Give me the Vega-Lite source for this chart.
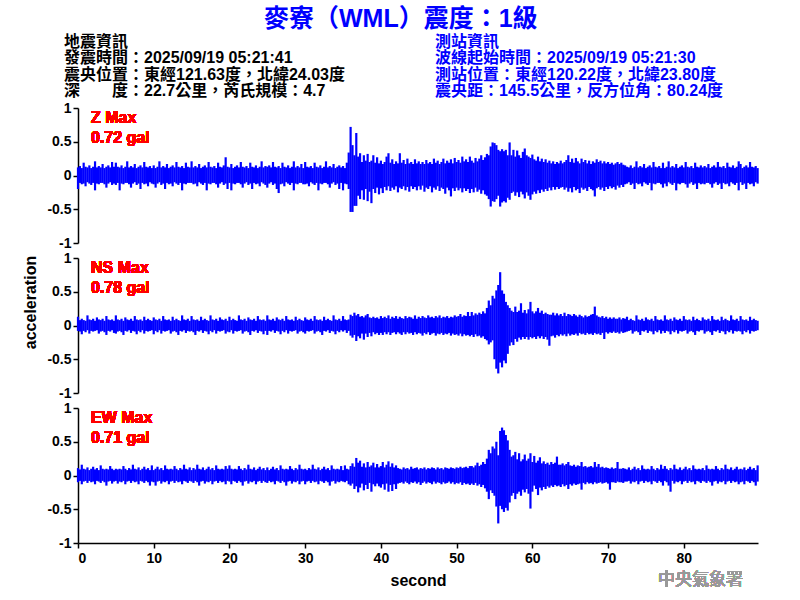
{
"$schema": "https://vega.github.io/schema/vega-lite/v6.json",
"background": "white",
"padding": {"left": 22, "top": 7, "right": 5, "bottom": 5},
"title": {"text": "麥寮（WML）震度：1級", "color": "#0000FF", "fontSize": 25, "fontWeight": "bold", "font": "Liberation Sans, Noto Sans CJK TC", "anchor": "middle", "offset": 2, "dx": 10},
"bounds": "flush",
"spacing": 15,
"datasets": {
"info": [
{"col":"L","r":1,"s":"地震資訊"},
{"col":"L","r":2,"s":"發震時間：2025/09/19 05:21:41"},
{"col":"L","r":3,"s":"震央位置：東經121.63度，北緯24.03度"},
{"col":"L","r":4,"s":"深　　度：22.7公里，芮氏規模：4.7"},
{"col":"R","r":1,"s":"測站資訊"},
{"col":"R","r":2,"s":"波線起始時間：2025/09/19 05:21:30"},
{"col":"R","r":3,"s":"測站位置：東經120.22度，北緯23.80度"},
{"col":"R","r":4,"s":"震央距：145.5公里，反方位角：80.24度"}
],
"w": [
{"t":0,"a":-0.2,"b":0.12,"c":-0.08,"d":0.13,"e":-0.1,"f":0.11},
{"t":0.25,"a":-0.11,"b":0.14,"c":-0.09,"d":0.08,"e":-0.08,"f":0.09},
{"t":0.5,"a":-0.13,"b":0.11,"c":-0.13,"d":0.1,"e":-0.13,"f":0.16},
{"t":0.75,"a":-0.12,"b":0.19,"c":-0.08,"d":0.08,"e":-0.09,"f":0.1},
{"t":1,"a":-0.16,"b":0.13,"c":-0.1,"d":0.07,"e":-0.08,"f":0.09},
{"t":1.25,"a":-0.1,"b":0.12,"c":-0.07,"d":0.15,"e":-0.11,"f":0.12},
{"t":1.5,"a":-0.12,"b":0.15,"c":-0.12,"d":0.09,"e":-0.08,"f":0.08},
{"t":1.75,"a":-0.14,"b":0.11,"c":-0.08,"d":0.08,"e":-0.1,"f":0.1},
{"t":2,"a":-0.11,"b":0.13,"c":-0.09,"d":0.1,"e":-0.09,"f":0.13},
{"t":2.25,"a":-0.22,"b":0.21,"c":-0.08,"d":0.07,"e":-0.13,"f":0.09},
{"t":2.5,"a":-0.12,"b":0.12,"c":-0.07,"d":0.12,"e":-0.08,"f":0.11},
{"t":2.75,"a":-0.13,"b":0.14,"c":-0.12,"d":0.09,"e":-0.09,"f":0.08},
{"t":3,"a":-0.11,"b":0.12,"c":-0.09,"d":0.08,"e":-0.11,"f":0.15},
{"t":3.25,"a":-0.11,"b":0.17,"c":-0.08,"d":0.1,"e":-0.08,"f":0.1},
{"t":3.5,"a":-0.13,"b":0.11,"c":-0.1,"d":0.07,"e":-0.1,"f":0.09},
{"t":3.75,"a":-0.18,"b":0.13,"c":-0.14,"d":0.14,"e":-0.15,"f":0.1},
{"t":4,"a":-0.12,"b":0.15,"c":-0.08,"d":0.09,"e":-0.09,"f":0.09},
{"t":4.25,"a":-0.1,"b":0.12,"c":-0.09,"d":0.08,"e":-0.08,"f":0.14},
{"t":4.5,"a":-0.14,"b":0.2,"c":-0.07,"d":0.09,"e":-0.12,"f":0.1},
{"t":4.75,"a":-0.12,"b":0.13,"c":-0.11,"d":0.07,"e":-0.09,"f":0.08},
{"t":5,"a":-0.14,"b":0.19,"c":-0.12,"d":0.15,"e":-0.08,"f":0.1},
{"t":5.25,"a":-0.11,"b":0.13,"c":-0.09,"d":0.09,"e":-0.12,"f":0.09},
{"t":5.5,"a":-0.22,"b":0.12,"c":-0.08,"d":0.08,"e":-0.09,"f":0.1},
{"t":5.75,"a":-0.12,"b":0.15,"c":-0.1,"d":0.1,"e":-0.1,"f":0.09},
{"t":6,"a":-0.13,"b":0.11,"c":-0.14,"d":0.07,"e":-0.08,"f":0.14},
{"t":6.25,"a":-0.11,"b":0.13,"c":-0.08,"d":0.12,"e":-0.13,"f":0.1},
{"t":6.5,"a":-0.11,"b":0.21,"c":-0.09,"d":0.09,"e":-0.09,"f":0.08},
{"t":6.75,"a":-0.13,"b":0.12,"c":-0.07,"d":0.08,"e":-0.08,"f":0.11},
{"t":7,"a":-0.18,"b":0.14,"c":-0.11,"d":0.1,"e":-0.11,"f":0.09},
{"t":7.25,"a":-0.12,"b":0.12,"c":-0.08,"d":0.07,"e":-0.08,"f":0.16},
{"t":7.5,"a":-0.1,"b":0.17,"c":-0.09,"d":0.14,"e":-0.1,"f":0.1},
{"t":7.75,"a":-0.14,"b":0.11,"c":-0.13,"d":0.09,"e":-0.09,"f":0.09},
{"t":8,"a":-0.12,"b":0.13,"c":-0.08,"d":0.08,"e":-0.13,"f":0.12},
{"t":8.25,"a":-0.2,"b":0.15,"c":-0.1,"d":0.09,"e":-0.08,"f":0.08},
{"t":8.5,"a":-0.11,"b":0.12,"c":-0.07,"d":0.07,"e":-0.09,"f":0.1},
{"t":8.75,"a":-0.13,"b":0.2,"c":-0.12,"d":0.13,"e":-0.11,"f":0.13},
{"t":9,"a":-0.12,"b":0.13,"c":-0.08,"d":0.08,"e":-0.08,"f":0.09},
{"t":9.25,"a":-0.16,"b":0.12,"c":-0.09,"d":0.1,"e":-0.1,"f":0.11},
{"t":9.5,"a":-0.1,"b":0.14,"c":-0.08,"d":0.08,"e":-0.15,"f":0.08},
{"t":9.75,"a":-0.12,"b":0.11,"c":-0.07,"d":0.07,"e":-0.09,"f":0.15},
{"t":10,"a":-0.13,"b":0.15,"c":-0.13,"d":0.12,"e":-0.1,"f":0.08},
{"t":10.25,"a":-0.18,"b":0.11,"c":-0.08,"d":0.09,"e":-0.15,"f":0.1},
{"t":10.5,"a":-0.12,"b":0.13,"c":-0.1,"d":0.08,"e":-0.09,"f":0.13},
{"t":10.75,"a":-0.1,"b":0.21,"c":-0.07,"d":0.1,"e":-0.08,"f":0.09},
{"t":11,"a":-0.14,"b":0.12,"c":-0.12,"d":0.07,"e":-0.12,"f":0.11},
{"t":11.25,"a":-0.12,"b":0.14,"c":-0.08,"d":0.14,"e":-0.09,"f":0.08},
{"t":11.5,"a":-0.2,"b":0.12,"c":-0.09,"d":0.09,"e":-0.1,"f":0.15},
{"t":11.75,"a":-0.11,"b":0.17,"c":-0.08,"d":0.08,"e":-0.08,"f":0.1},
{"t":12,"a":-0.13,"b":0.11,"c":-0.07,"d":0.09,"e":-0.13,"f":0.09},
{"t":12.25,"a":-0.12,"b":0.13,"c":-0.12,"d":0.07,"e":-0.09,"f":0.1},
{"t":12.5,"a":-0.16,"b":0.15,"c":-0.09,"d":0.13,"e":-0.08,"f":0.09},
{"t":12.75,"a":-0.1,"b":0.12,"c":-0.08,"d":0.08,"e":-0.11,"f":0.14},
{"t":13,"a":-0.12,"b":0.2,"c":-0.1,"d":0.1,"e":-0.08,"f":0.1},
{"t":13.25,"a":-0.14,"b":0.13,"c":-0.14,"d":0.08,"e":-0.1,"f":0.08},
{"t":13.5,"a":-0.11,"b":0.12,"c":-0.08,"d":0.07,"e":-0.09,"f":0.11},
{"t":13.75,"a":-0.22,"b":0.14,"c":-0.09,"d":0.15,"e":-0.13,"f":0.09},
{"t":14,"a":-0.12,"b":0.11,"c":-0.07,"d":0.09,"e":-0.08,"f":0.16},
{"t":14.25,"a":-0.13,"b":0.19,"c":-0.11,"d":0.08,"e":-0.09,"f":0.1},
{"t":14.5,"a":-0.11,"b":0.13,"c":-0.08,"d":0.1,"e":-0.11,"f":0.09},
{"t":14.75,"a":-0.11,"b":0.12,"c":-0.09,"d":0.07,"e":-0.08,"f":0.12},
{"t":15,"a":-0.11,"b":0.21,"c":-0.08,"d":0.14,"e":-0.09,"f":0.08},
{"t":15.25,"a":-0.13,"b":0.12,"c":-0.1,"d":0.09,"e":-0.11,"f":0.11},
{"t":15.5,"a":-0.12,"b":0.14,"c":-0.14,"d":0.08,"e":-0.08,"f":0.09},
{"t":15.75,"a":-0.16,"b":0.12,"c":-0.08,"d":0.09,"e":-0.1,"f":0.16},
{"t":16,"a":-0.1,"b":0.17,"c":-0.09,"d":0.07,"e":-0.15,"f":0.1},
{"t":16.25,"a":-0.12,"b":0.11,"c":-0.07,"d":0.13,"e":-0.09,"f":0.09},
{"t":16.5,"a":-0.14,"b":0.13,"c":-0.11,"d":0.08,"e":-0.08,"f":0.12},
{"t":16.75,"a":-0.11,"b":0.15,"c":-0.08,"d":0.1,"e":-0.12,"f":0.08},
{"t":17,"a":-0.22,"b":0.12,"c":-0.09,"d":0.08,"e":-0.09,"f":0.1},
{"t":17.25,"a":-0.12,"b":0.2,"c":-0.13,"d":0.07,"e":-0.1,"f":0.13},
{"t":17.5,"a":-0.13,"b":0.13,"c":-0.08,"d":0.15,"e":-0.08,"f":0.09},
{"t":17.75,"a":-0.11,"b":0.12,"c":-0.1,"d":0.09,"e":-0.13,"f":0.11},
{"t":18,"a":-0.11,"b":0.14,"c":-0.07,"d":0.08,"e":-0.09,"f":0.08},
{"t":18.25,"a":-0.13,"b":0.11,"c":-0.12,"d":0.1,"e":-0.08,"f":0.15},
{"t":18.5,"a":-0.18,"b":0.19,"c":-0.08,"d":0.07,"e":-0.11,"f":0.1},
{"t":18.75,"a":-0.12,"b":0.13,"c":-0.09,"d":0.12,"e":-0.08,"f":0.09},
{"t":19,"a":-0.1,"b":0.12,"c":-0.08,"d":0.09,"e":-0.1,"f":0.1},
{"t":19.25,"a":-0.14,"b":0.15,"c":-0.07,"d":0.08,"e":-0.09,"f":0.09},
{"t":19.5,"a":-0.12,"b":0.27,"c":-0.12,"d":0.1,"e":-0.13,"f":0.14},
{"t":19.75,"a":-0.2,"b":0.13,"c":-0.09,"d":0.07,"e":-0.08,"f":0.1},
{"t":20,"a":-0.11,"b":0.12,"c":-0.1,"d":0.13,"e":-0.09,"f":0.15},
{"t":20.25,"a":-0.22,"b":0.17,"c":-0.07,"d":0.08,"e":-0.13,"f":0.1},
{"t":20.5,"a":-0.12,"b":0.11,"c":-0.12,"d":0.1,"e":-0.08,"f":0.09},
{"t":20.75,"a":-0.13,"b":0.13,"c":-0.08,"d":0.08,"e":-0.09,"f":0.1},
{"t":21,"a":-0.11,"b":0.15,"c":-0.09,"d":0.07,"e":-0.11,"f":0.09},
{"t":21.25,"a":-0.11,"b":0.12,"c":-0.08,"d":0.15,"e":-0.08,"f":0.14},
{"t":21.5,"a":-0.13,"b":0.2,"c":-0.07,"d":0.09,"e":-0.1,"f":0.1},
{"t":21.75,"a":-0.18,"b":0.13,"c":-0.12,"d":0.08,"e":-0.15,"f":0.08},
{"t":22,"a":-0.12,"b":0.12,"c":-0.09,"d":0.1,"e":-0.09,"f":0.11},
{"t":22.25,"a":-0.1,"b":0.14,"c":-0.08,"d":0.07,"e":-0.08,"f":0.09},
{"t":22.5,"a":-0.14,"b":0.11,"c":-0.1,"d":0.12,"e":-0.12,"f":0.16},
{"t":22.75,"a":-0.12,"b":0.19,"c":-0.14,"d":0.09,"e":-0.09,"f":0.1},
{"t":23,"a":-0.2,"b":0.13,"c":-0.08,"d":0.08,"e":-0.1,"f":0.09},
{"t":23.25,"a":-0.11,"b":0.12,"c":-0.09,"d":0.1,"e":-0.08,"f":0.12},
{"t":23.5,"a":-0.13,"b":0.15,"c":-0.07,"d":0.07,"e":-0.13,"f":0.08},
{"t":23.75,"a":-0.12,"b":0.11,"c":-0.11,"d":0.14,"e":-0.09,"f":0.1},
{"t":24,"a":-0.16,"b":0.13,"c":-0.08,"d":0.09,"e":-0.08,"f":0.13},
{"t":24.25,"a":-0.1,"b":0.21,"c":-0.09,"d":0.08,"e":-0.11,"f":0.09},
{"t":24.5,"a":-0.12,"b":0.12,"c":-0.13,"d":0.09,"e":-0.08,"f":0.11},
{"t":24.75,"a":-0.14,"b":0.14,"c":-0.08,"d":0.07,"e":-0.1,"f":0.08},
{"t":25,"a":-0.18,"b":0.13,"c":-0.14,"d":0.15,"e":-0.11,"f":0.12},
{"t":25.25,"a":-0.12,"b":0.15,"c":-0.08,"d":0.09,"e":-0.08,"f":0.08},
{"t":25.5,"a":-0.1,"b":0.12,"c":-0.09,"d":0.08,"e":-0.1,"f":0.1},
{"t":25.75,"a":-0.14,"b":0.2,"c":-0.07,"d":0.1,"e":-0.09,"f":0.13},
{"t":26,"a":-0.12,"b":0.13,"c":-0.11,"d":0.07,"e":-0.13,"f":0.09},
{"t":26.25,"a":-0.2,"b":0.12,"c":-0.08,"d":0.12,"e":-0.08,"f":0.11},
{"t":26.5,"a":-0.26,"b":0.14,"c":-0.09,"d":0.09,"e":-0.09,"f":0.08},
{"t":26.75,"a":-0.13,"b":0.11,"c":-0.13,"d":0.08,"e":-0.11,"f":0.15},
{"t":27,"a":-0.12,"b":0.19,"c":-0.08,"d":0.1,"e":-0.08,"f":0.1},
{"t":27.25,"a":-0.16,"b":0.13,"c":-0.1,"d":0.07,"e":-0.1,"f":0.09},
{"t":27.5,"a":-0.1,"b":0.12,"c":-0.07,"d":0.14,"e":-0.15,"f":0.1},
{"t":27.75,"a":-0.12,"b":0.15,"c":-0.12,"d":0.09,"e":-0.09,"f":0.09},
{"t":28,"a":-0.14,"b":0.11,"c":-0.08,"d":0.08,"e":-0.08,"f":0.14},
{"t":28.25,"a":-0.11,"b":0.13,"c":-0.09,"d":0.09,"e":-0.12,"f":0.1},
{"t":28.5,"a":-0.22,"b":0.21,"c":-0.08,"d":0.07,"e":-0.09,"f":0.08},
{"t":28.75,"a":-0.12,"b":0.12,"c":-0.07,"d":0.13,"e":-0.1,"f":0.11},
{"t":29,"a":-0.13,"b":0.14,"c":-0.12,"d":0.08,"e":-0.08,"f":0.09},
{"t":29.25,"a":-0.11,"b":0.12,"c":-0.09,"d":0.1,"e":-0.13,"f":0.16},
{"t":29.5,"a":-0.11,"b":0.17,"c":-0.08,"d":0.08,"e":-0.09,"f":0.1},
{"t":29.75,"a":-0.13,"b":0.11,"c":-0.1,"d":0.07,"e":-0.08,"f":0.09},
{"t":30,"a":-0.13,"b":0.2,"c":-0.12,"d":0.12,"e":-0.13,"f":0.1},
{"t":30.25,"a":-0.12,"b":0.13,"c":-0.08,"d":0.09,"e":-0.09,"f":0.08},
{"t":30.5,"a":-0.16,"b":0.12,"c":-0.09,"d":0.08,"e":-0.08,"f":0.11},
{"t":30.75,"a":-0.1,"b":0.14,"c":-0.08,"d":0.1,"e":-0.11,"f":0.09},
{"t":31,"a":-0.12,"b":0.11,"c":-0.07,"d":0.07,"e":-0.08,"f":0.16},
{"t":31.25,"a":-0.14,"b":0.19,"c":-0.12,"d":0.14,"e":-0.1,"f":0.1},
{"t":31.5,"a":-0.11,"b":0.13,"c":-0.09,"d":0.09,"e":-0.09,"f":0.09},
{"t":31.75,"a":-0.22,"b":0.12,"c":-0.08,"d":0.08,"e":-0.13,"f":0.12},
{"t":32,"a":-0.12,"b":0.15,"c":-0.1,"d":0.09,"e":-0.08,"f":0.08},
{"t":32.25,"a":-0.13,"b":0.11,"c":-0.14,"d":0.07,"e":-0.09,"f":0.1},
{"t":32.5,"a":-0.11,"b":0.13,"c":-0.08,"d":0.13,"e":-0.11,"f":0.13},
{"t":32.75,"a":-0.11,"b":0.21,"c":-0.09,"d":0.08,"e":-0.08,"f":0.09},
{"t":33,"a":-0.13,"b":0.12,"c":-0.07,"d":0.1,"e":-0.1,"f":0.11},
{"t":33.25,"a":-0.18,"b":0.14,"c":-0.11,"d":0.08,"e":-0.15,"f":0.08},
{"t":33.5,"a":-0.12,"b":0.12,"c":-0.08,"d":0.07,"e":-0.09,"f":0.15},
{"t":33.75,"a":-0.1,"b":0.17,"c":-0.09,"d":0.15,"e":-0.08,"f":0.1},
{"t":34,"a":-0.14,"b":0.11,"c":-0.13,"d":0.09,"e":-0.12,"f":0.09},
{"t":34.25,"a":-0.12,"b":0.13,"c":-0.08,"d":0.08,"e":-0.09,"f":0.1},
{"t":34.5,"a":-0.2,"b":0.15,"c":-0.1,"d":0.1,"e":-0.1,"f":0.09},
{"t":34.75,"a":-0.11,"b":0.12,"c":-0.07,"d":0.07,"e":-0.08,"f":0.14},
{"t":35,"a":-0.22,"b":0.14,"c":-0.09,"d":0.14,"e":-0.09,"f":0.08},
{"t":35.25,"a":-0.12,"b":0.11,"c":-0.07,"d":0.09,"e":-0.1,"f":0.15},
{"t":35.5,"a":-0.13,"b":0.19,"c":-0.11,"d":0.08,"e":-0.08,"f":0.1},
{"t":35.75,"a":-0.2,"b":0.34,"c":-0.08,"d":0.09,"e":-0.13,"f":0.09},
{"t":36,"a":-0.54,"b":0.72,"c":-0.15,"d":0.16,"e":-0.15,"f":0.14},
{"t":36.25,"a":-0.54,"b":0.45,"c":-0.18,"d":0.14,"e":-0.12,"f":0.18},
{"t":36.5,"a":-0.45,"b":0.3,"c":-0.14,"d":0.19,"e":-0.2,"f":0.13},
{"t":36.75,"a":-0.45,"b":0.63,"c":-0.23,"d":0.15,"e":-0.16,"f":0.26},
{"t":37,"a":-0.3,"b":0.28,"c":-0.16,"d":0.17,"e":-0.25,"f":0.19},
{"t":37.25,"a":-0.35,"b":0.33,"c":-0.19,"d":0.13,"e":-0.18,"f":0.22},
{"t":37.5,"a":-0.22,"b":0.2,"c":-0.12,"d":0.14,"e":-0.12,"f":0.13},
{"t":37.75,"a":-0.36,"b":0.3,"c":-0.21,"d":0.12,"e":-0.22,"f":0.18},
{"t":38,"a":-0.2,"b":0.22,"c":-0.12,"d":0.15,"e":-0.14,"f":0.12},
{"t":38.25,"a":-0.38,"b":0.32,"c":-0.17,"d":0.17,"e":-0.2,"f":0.2},
{"t":38.5,"a":-0.24,"b":0.2,"c":-0.11,"d":0.12,"e":-0.11,"f":0.13},
{"t":38.75,"a":-0.41,"b":0.22,"c":-0.16,"d":0.11,"e":-0.24,"f":0.15},
{"t":39,"a":-0.2,"b":0.3,"c":-0.1,"d":0.13,"e":-0.13,"f":0.19},
{"t":39.25,"a":-0.26,"b":0.19,"c":-0.13,"d":0.11,"e":-0.16,"f":0.12},
{"t":39.5,"a":-0.18,"b":0.27,"c":-0.11,"d":0.12,"e":-0.12,"f":0.17},
{"t":39.75,"a":-0.28,"b":0.18,"c":-0.14,"d":0.1,"e":-0.16,"f":0.12},
{"t":40,"a":-0.19,"b":0.22,"c":-0.11,"d":0.14,"e":-0.18,"f":0.14},
{"t":40.25,"a":-0.26,"b":0.17,"c":-0.14,"d":0.11,"e":-0.13,"f":0.2},
{"t":40.5,"a":-0.17,"b":0.2,"c":-0.1,"d":0.13,"e":-0.21,"f":0.12},
{"t":40.75,"a":-0.22,"b":0.28,"c":-0.13,"d":0.11,"e":-0.12,"f":0.16},
{"t":41,"a":-0.16,"b":0.33,"c":-0.1,"d":0.15,"e":-0.24,"f":0.21},
{"t":41.25,"a":-0.23,"b":0.19,"c":-0.14,"d":0.1,"e":-0.14,"f":0.13},
{"t":41.5,"a":-0.18,"b":0.24,"c":-0.11,"d":0.13,"e":-0.23,"f":0.18},
{"t":41.75,"a":-0.21,"b":0.17,"c":-0.1,"d":0.11,"e":-0.13,"f":0.12},
{"t":42,"a":-0.16,"b":0.21,"c":-0.13,"d":0.14,"e":-0.2,"f":0.15},
{"t":42.25,"a":-0.25,"b":0.18,"c":-0.1,"d":0.1,"e":-0.12,"f":0.11},
{"t":42.5,"a":-0.18,"b":0.33,"c":-0.12,"d":0.13,"e":-0.11,"f":0.1},
{"t":42.75,"a":-0.2,"b":0.19,"c":-0.14,"d":0.11,"e":-0.1,"f":0.09},
{"t":43,"a":-0.16,"b":0.23,"c":-0.1,"d":0.1,"e":-0.12,"f":0.12},
{"t":43.25,"a":-0.22,"b":0.17,"c":-0.13,"d":0.14,"e":-0.09,"f":0.1},
{"t":43.5,"a":-0.17,"b":0.25,"c":-0.1,"d":0.11,"e":-0.11,"f":0.11},
{"t":43.75,"a":-0.24,"b":0.18,"c":-0.12,"d":0.13,"e":-0.13,"f":0.09},
{"t":44,"a":-0.16,"b":0.2,"c":-0.11,"d":0.12,"e":-0.1,"f":0.13},
{"t":44.25,"a":-0.2,"b":0.17,"c":-0.14,"d":0.1,"e":-0.11,"f":0.1},
{"t":44.5,"a":-0.17,"b":0.24,"c":-0.1,"d":0.15,"e":-0.09,"f":0.11},
{"t":44.75,"a":-0.22,"b":0.18,"c":-0.13,"d":0.1,"e":-0.12,"f":0.12},
{"t":45,"a":-0.16,"b":0.21,"c":-0.11,"d":0.13,"e":-0.1,"f":0.09},
{"t":45.25,"a":-0.21,"b":0.17,"c":-0.12,"d":0.11,"e":-0.14,"f":0.11},
{"t":45.5,"a":-0.15,"b":0.2,"c":-0.15,"d":0.14,"e":-0.11,"f":0.1},
{"t":45.75,"a":-0.24,"b":0.17,"c":-0.11,"d":0.12,"e":-0.09,"f":0.12},
{"t":46,"a":-0.18,"b":0.23,"c":-0.13,"d":0.11,"e":-0.12,"f":0.09},
{"t":46.25,"a":-0.2,"b":0.18,"c":-0.1,"d":0.15,"e":-0.1,"f":0.11},
{"t":46.5,"a":-0.16,"b":0.2,"c":-0.14,"d":0.12,"e":-0.11,"f":0.1},
{"t":46.75,"a":-0.25,"b":0.17,"c":-0.12,"d":0.13,"e":-0.13,"f":0.12},
{"t":47,"a":-0.18,"b":0.25,"c":-0.11,"d":0.11,"e":-0.09,"f":0.11},
{"t":47.25,"a":-0.21,"b":0.19,"c":-0.15,"d":0.14,"e":-0.12,"f":0.09},
{"t":47.5,"a":-0.16,"b":0.22,"c":-0.12,"d":0.12,"e":-0.1,"f":0.12},
{"t":47.75,"a":-0.23,"b":0.17,"c":-0.13,"d":0.15,"e":-0.11,"f":0.1},
{"t":48,"a":-0.18,"b":0.2,"c":-0.11,"d":0.11,"e":-0.13,"f":0.11},
{"t":48.25,"a":-0.2,"b":0.25,"c":-0.14,"d":0.13,"e":-0.1,"f":0.09},
{"t":48.5,"a":-0.27,"b":0.18,"c":-0.12,"d":0.12,"e":-0.12,"f":0.12},
{"t":48.75,"a":-0.18,"b":0.22,"c":-0.13,"d":0.14,"e":-0.11,"f":0.11},
{"t":49,"a":-0.22,"b":0.19,"c":-0.11,"d":0.11,"e":-0.09,"f":0.1},
{"t":49.25,"a":-0.31,"b":0.24,"c":-0.15,"d":0.13,"e":-0.12,"f":0.12},
{"t":49.5,"a":-0.19,"b":0.18,"c":-0.12,"d":0.12,"e":-0.1,"f":0.11},
{"t":49.75,"a":-0.23,"b":0.26,"c":-0.14,"d":0.15,"e":-0.13,"f":0.1},
{"t":50,"a":-0.18,"b":0.2,"c":-0.13,"d":0.13,"e":-0.11,"f":0.12},
{"t":50.25,"a":-0.22,"b":0.23,"c":-0.15,"d":0.14,"e":-0.12,"f":0.11},
{"t":50.5,"a":-0.19,"b":0.19,"c":-0.12,"d":0.17,"e":-0.1,"f":0.13},
{"t":50.75,"a":-0.25,"b":0.28,"c":-0.16,"d":0.13,"e":-0.14,"f":0.11},
{"t":51,"a":-0.19,"b":0.21,"c":-0.13,"d":0.15,"e":-0.11,"f":0.12},
{"t":51.25,"a":-0.23,"b":0.24,"c":-0.15,"d":0.14,"e":-0.13,"f":0.13},
{"t":51.5,"a":-0.2,"b":0.2,"c":-0.14,"d":0.2,"e":-0.12,"f":0.11},
{"t":51.75,"a":-0.26,"b":0.28,"c":-0.16,"d":0.14,"e":-0.14,"f":0.14},
{"t":52,"a":-0.2,"b":0.22,"c":-0.14,"d":0.2,"e":-0.12,"f":0.14},
{"t":52.25,"a":-0.25,"b":0.19,"c":-0.17,"d":0.15,"e":-0.14,"f":0.12},
{"t":52.5,"a":-0.18,"b":0.26,"c":-0.13,"d":0.18,"e":-0.11,"f":0.15},
{"t":52.75,"a":-0.24,"b":0.21,"c":-0.16,"d":0.16,"e":-0.15,"f":0.19},
{"t":53,"a":-0.21,"b":0.25,"c":-0.15,"d":0.19,"e":-0.13,"f":0.14},
{"t":53.25,"a":-0.27,"b":0.3,"c":-0.18,"d":0.17,"e":-0.17,"f":0.16},
{"t":53.5,"a":-0.22,"b":0.23,"c":-0.16,"d":0.21,"e":-0.14,"f":0.2},
{"t":53.75,"a":-0.28,"b":0.27,"c":-0.2,"d":0.18,"e":-0.19,"f":0.17},
{"t":54,"a":-0.3,"b":0.32,"c":-0.22,"d":0.26,"e":-0.24,"f":0.25},
{"t":54.25,"a":-0.35,"b":0.3,"c":-0.28,"d":0.37,"e":-0.35,"f":0.38},
{"t":54.5,"a":-0.46,"b":0.43,"c":-0.25,"d":0.3,"e":-0.22,"f":0.33},
{"t":54.75,"a":-0.38,"b":0.49,"c":-0.22,"d":0.44,"e":-0.26,"f":0.43},
{"t":55,"a":-0.39,"b":0.48,"c":-0.5,"d":0.4,"e":-0.3,"f":0.4},
{"t":55.25,"a":-0.35,"b":0.45,"c":-0.64,"d":0.52,"e":-0.46,"f":0.5},
{"t":55.5,"a":-0.3,"b":0.38,"c":-0.71,"d":0.6,"e":-0.71,"f":0.3},
{"t":55.75,"a":-0.46,"b":0.36,"c":-0.55,"d":0.79,"e":-0.45,"f":0.66},
{"t":56,"a":-0.4,"b":0.39,"c":-0.62,"d":0.52,"e":-0.5,"f":0.71},
{"t":56.25,"a":-0.38,"b":0.36,"c":-0.52,"d":0.47,"e":-0.54,"f":0.67},
{"t":56.5,"a":-0.4,"b":0.38,"c":-0.56,"d":0.35,"e":-0.48,"f":0.6},
{"t":56.75,"a":-0.33,"b":0.3,"c":-0.42,"d":0.3,"e":-0.52,"f":0.52},
{"t":57,"a":-0.36,"b":0.49,"c":-0.3,"d":0.26,"e":-0.4,"f":0.38},
{"t":57.25,"a":-0.26,"b":0.3,"c":-0.25,"d":0.22,"e":-0.3,"f":0.28},
{"t":57.5,"a":-0.24,"b":0.38,"c":-0.29,"d":0.2,"e":-0.26,"f":0.3},
{"t":57.75,"a":-0.3,"b":0.28,"c":-0.2,"d":0.28,"e":-0.35,"f":0.35},
{"t":58,"a":-0.25,"b":0.37,"c":-0.24,"d":0.2,"e":-0.27,"f":0.24},
{"t":58.25,"a":-0.32,"b":0.3,"c":-0.18,"d":0.22,"e":-0.24,"f":0.33},
{"t":58.5,"a":-0.24,"b":0.26,"c":-0.21,"d":0.33,"e":-0.3,"f":0.21},
{"t":58.75,"a":-0.28,"b":0.35,"c":-0.17,"d":0.19,"e":-0.21,"f":0.24},
{"t":59,"a":-0.34,"b":0.4,"c":-0.2,"d":0.23,"e":-0.25,"f":0.31},
{"t":59.25,"a":-0.25,"b":0.3,"c":-0.17,"d":0.18,"e":-0.2,"f":0.22},
{"t":59.5,"a":-0.3,"b":0.28,"c":-0.21,"d":0.24,"e":-0.27,"f":0.25},
{"t":59.75,"a":-0.36,"b":0.26,"c":-0.17,"d":0.35,"e":-0.49,"f":0.33},
{"t":60,"a":-0.28,"b":0.31,"c":-0.19,"d":0.21,"e":-0.24,"f":0.2},
{"t":60.25,"a":-0.24,"b":0.24,"c":-0.17,"d":0.18,"e":-0.15,"f":0.29},
{"t":60.5,"a":-0.27,"b":0.22,"c":-0.2,"d":0.21,"e":-0.2,"f":0.19},
{"t":60.75,"a":-0.22,"b":0.28,"c":-0.16,"d":0.26,"e":-0.29,"f":0.22},
{"t":61,"a":-0.26,"b":0.21,"c":-0.19,"d":0.19,"e":-0.18,"f":0.27},
{"t":61.25,"a":-0.21,"b":0.25,"c":-0.16,"d":0.22,"e":-0.22,"f":0.18},
{"t":61.5,"a":-0.24,"b":0.2,"c":-0.2,"d":0.17,"e":-0.17,"f":0.21},
{"t":61.75,"a":-0.2,"b":0.24,"c":-0.17,"d":0.19,"e":-0.2,"f":0.17},
{"t":62,"a":-0.23,"b":0.19,"c":-0.21,"d":0.17,"e":-0.16,"f":0.19},
{"t":62.25,"a":-0.18,"b":0.22,"c":-0.3,"d":0.16,"e":-0.18,"f":0.16},
{"t":62.5,"a":-0.22,"b":0.18,"c":-0.16,"d":0.16,"e":-0.15,"f":0.2},
{"t":62.75,"a":-0.17,"b":0.21,"c":-0.15,"d":0.19,"e":-0.17,"f":0.17},
{"t":63,"a":-0.21,"b":0.17,"c":-0.18,"d":0.15,"e":-0.14,"f":0.19},
{"t":63.25,"a":-0.17,"b":0.2,"c":-0.14,"d":0.18,"e":-0.16,"f":0.28},
{"t":63.5,"a":-0.2,"b":0.18,"c":-0.16,"d":0.15,"e":-0.15,"f":0.16},
{"t":63.75,"a":-0.18,"b":0.22,"c":-0.13,"d":0.17,"e":-0.17,"f":0.16},
{"t":64,"a":-0.17,"b":0.18,"c":-0.15,"d":0.14,"e":-0.13,"f":0.18},
{"t":64.25,"a":-0.21,"b":0.2,"c":-0.13,"d":0.19,"e":-0.16,"f":0.15},
{"t":64.5,"a":-0.18,"b":0.23,"c":-0.16,"d":0.14,"e":-0.14,"f":0.17},
{"t":64.75,"a":-0.24,"b":0.3,"c":-0.12,"d":0.17,"e":-0.2,"f":0.2},
{"t":65,"a":-0.19,"b":0.2,"c":-0.15,"d":0.16,"e":-0.13,"f":0.15},
{"t":65.25,"a":-0.25,"b":0.25,"c":-0.13,"d":0.14,"e":-0.15,"f":0.14},
{"t":65.5,"a":-0.17,"b":0.19,"c":-0.14,"d":0.17,"e":-0.12,"f":0.16},
{"t":65.75,"a":-0.22,"b":0.26,"c":-0.12,"d":0.15,"e":-0.14,"f":0.13},
{"t":66,"a":-0.2,"b":0.21,"c":-0.15,"d":0.13,"e":-0.13,"f":0.15},
{"t":66.25,"a":-0.26,"b":0.18,"c":-0.11,"d":0.16,"e":-0.12,"f":0.14},
{"t":66.5,"a":-0.18,"b":0.25,"c":-0.13,"d":0.14,"e":-0.21,"f":0.2},
{"t":66.75,"a":-0.21,"b":0.2,"c":-0.12,"d":0.12,"e":-0.11,"f":0.13},
{"t":67,"a":-0.19,"b":0.23,"c":-0.14,"d":0.15,"e":-0.13,"f":0.14},
{"t":67.25,"a":-0.23,"b":0.18,"c":-0.11,"d":0.13,"e":-0.1,"f":0.12},
{"t":67.5,"a":-0.17,"b":0.22,"c":-0.13,"d":0.14,"e":-0.12,"f":0.13},
{"t":67.75,"a":-0.2,"b":0.17,"c":-0.12,"d":0.16,"e":-0.11,"f":0.14},
{"t":68,"a":-0.22,"b":0.21,"c":-0.14,"d":0.17,"e":-0.13,"f":0.12},
{"t":68.25,"a":-0.31,"b":0.19,"c":-0.11,"d":0.28,"e":-0.1,"f":0.2},
{"t":68.5,"a":-0.19,"b":0.24,"c":-0.13,"d":0.15,"e":-0.12,"f":0.13},
{"t":68.75,"a":-0.17,"b":0.2,"c":-0.12,"d":0.13,"e":-0.11,"f":0.17},
{"t":69,"a":-0.21,"b":0.22,"c":-0.14,"d":0.12,"e":-0.1,"f":0.12},
{"t":69.25,"a":-0.18,"b":0.18,"c":-0.11,"d":0.14,"e":-0.12,"f":0.13},
{"t":69.5,"a":-0.23,"b":0.21,"c":-0.2,"d":0.11,"e":-0.11,"f":0.11},
{"t":69.75,"a":-0.17,"b":0.18,"c":-0.1,"d":0.13,"e":-0.1,"f":0.12},
{"t":70,"a":-0.2,"b":0.2,"c":-0.12,"d":0.1,"e":-0.12,"f":0.11},
{"t":70.25,"a":-0.16,"b":0.17,"c":-0.1,"d":0.12,"e":-0.21,"f":0.1},
{"t":70.5,"a":-0.19,"b":0.19,"c":-0.11,"d":0.1,"e":-0.1,"f":0.12},
{"t":70.75,"a":-0.17,"b":0.16,"c":-0.09,"d":0.12,"e":-0.1,"f":0.1},
{"t":71,"a":-0.21,"b":0.18,"c":-0.11,"d":0.1,"e":-0.11,"f":0.11},
{"t":71.25,"a":-0.15,"b":0.2,"c":-0.1,"d":0.1,"e":-0.09,"f":0.2},
{"t":71.5,"a":-0.18,"b":0.17,"c":-0.12,"d":0.12,"e":-0.1,"f":0.1},
{"t":71.75,"a":-0.14,"b":0.19,"c":-0.09,"d":0.09,"e":-0.1,"f":0.1},
{"t":72,"a":-0.17,"b":0.16,"c":-0.11,"d":0.11,"e":-0.11,"f":0.11},
{"t":72.25,"a":-0.13,"b":0.15,"c":-0.1,"d":0.1,"e":-0.09,"f":0.1},
{"t":72.5,"a":-0.12,"b":0.13,"c":-0.09,"d":0.13,"e":-0.09,"f":0.09},
{"t":72.75,"a":-0.1,"b":0.12,"c":-0.08,"d":0.08,"e":-0.08,"f":0.12},
{"t":73,"a":-0.14,"b":0.15,"c":-0.07,"d":0.1,"e":-0.12,"f":0.08},
{"t":73.25,"a":-0.12,"b":0.11,"c":-0.12,"d":0.08,"e":-0.09,"f":0.1},
{"t":73.5,"a":-0.2,"b":0.13,"c":-0.09,"d":0.07,"e":-0.1,"f":0.13},
{"t":73.75,"a":-0.11,"b":0.21,"c":-0.08,"d":0.15,"e":-0.08,"f":0.09},
{"t":74,"a":-0.13,"b":0.12,"c":-0.1,"d":0.09,"e":-0.13,"f":0.11},
{"t":74.25,"a":-0.12,"b":0.14,"c":-0.14,"d":0.08,"e":-0.09,"f":0.08},
{"t":74.5,"a":-0.16,"b":0.12,"c":-0.08,"d":0.1,"e":-0.08,"f":0.15},
{"t":74.75,"a":-0.1,"b":0.17,"c":-0.09,"d":0.07,"e":-0.11,"f":0.1},
{"t":75,"a":-0.12,"b":0.11,"c":-0.07,"d":0.12,"e":-0.08,"f":0.09},
{"t":75.25,"a":-0.14,"b":0.13,"c":-0.11,"d":0.09,"e":-0.1,"f":0.1},
{"t":75.5,"a":-0.11,"b":0.15,"c":-0.08,"d":0.08,"e":-0.09,"f":0.09},
{"t":75.75,"a":-0.22,"b":0.12,"c":-0.09,"d":0.1,"e":-0.13,"f":0.14},
{"t":76,"a":-0.12,"b":0.2,"c":-0.13,"d":0.07,"e":-0.08,"f":0.1},
{"t":76.25,"a":-0.13,"b":0.13,"c":-0.08,"d":0.14,"e":-0.09,"f":0.08},
{"t":76.5,"a":-0.11,"b":0.12,"c":-0.1,"d":0.09,"e":-0.11,"f":0.11},
{"t":76.75,"a":-0.11,"b":0.14,"c":-0.07,"d":0.08,"e":-0.08,"f":0.09},
{"t":77,"a":-0.13,"b":0.11,"c":-0.12,"d":0.09,"e":-0.1,"f":0.16},
{"t":77.25,"a":-0.18,"b":0.19,"c":-0.08,"d":0.07,"e":-0.15,"f":0.1},
{"t":77.5,"a":-0.12,"b":0.11,"c":-0.11,"d":0.15,"e":-0.08,"f":0.14},
{"t":77.75,"a":-0.16,"b":0.13,"c":-0.08,"d":0.09,"e":-0.1,"f":0.1},
{"t":78,"a":-0.1,"b":0.21,"c":-0.09,"d":0.08,"e":-0.15,"f":0.08},
{"t":78.25,"a":-0.12,"b":0.12,"c":-0.13,"d":0.1,"e":-0.24,"f":0.11},
{"t":78.5,"a":-0.14,"b":0.14,"c":-0.08,"d":0.07,"e":-0.08,"f":0.09},
{"t":78.75,"a":-0.11,"b":0.12,"c":-0.1,"d":0.12,"e":-0.12,"f":0.16},
{"t":79,"a":-0.22,"b":0.17,"c":-0.07,"d":0.09,"e":-0.09,"f":0.1},
{"t":79.25,"a":-0.12,"b":0.11,"c":-0.12,"d":0.08,"e":-0.1,"f":0.09},
{"t":79.5,"a":-0.13,"b":0.13,"c":-0.08,"d":0.1,"e":-0.08,"f":0.12},
{"t":79.75,"a":-0.11,"b":0.15,"c":-0.09,"d":0.07,"e":-0.13,"f":0.08},
{"t":80,"a":-0.11,"b":0.12,"c":-0.08,"d":0.14,"e":-0.09,"f":0.1},
{"t":80.25,"a":-0.13,"b":0.2,"c":-0.07,"d":0.09,"e":-0.08,"f":0.13},
{"t":80.5,"a":-0.18,"b":0.13,"c":-0.12,"d":0.08,"e":-0.11,"f":0.09},
{"t":80.75,"a":-0.12,"b":0.12,"c":-0.09,"d":0.09,"e":-0.08,"f":0.11},
{"t":81,"a":-0.1,"b":0.14,"c":-0.08,"d":0.07,"e":-0.1,"f":0.08},
{"t":81.25,"a":-0.14,"b":0.11,"c":-0.1,"d":0.13,"e":-0.09,"f":0.15},
{"t":81.5,"a":-0.12,"b":0.19,"c":-0.14,"d":0.08,"e":-0.13,"f":0.1},
{"t":81.75,"a":-0.2,"b":0.13,"c":-0.08,"d":0.1,"e":-0.08,"f":0.09},
{"t":82,"a":-0.11,"b":0.12,"c":-0.09,"d":0.08,"e":-0.09,"f":0.1},
{"t":82.25,"a":-0.13,"b":0.15,"c":-0.07,"d":0.07,"e":-0.11,"f":0.09},
{"t":82.5,"a":-0.12,"b":0.12,"c":-0.07,"d":0.12,"e":-0.08,"f":0.11},
{"t":82.75,"a":-0.13,"b":0.14,"c":-0.12,"d":0.09,"e":-0.09,"f":0.08},
{"t":83,"a":-0.11,"b":0.12,"c":-0.09,"d":0.08,"e":-0.11,"f":0.15},
{"t":83.25,"a":-0.11,"b":0.17,"c":-0.08,"d":0.1,"e":-0.08,"f":0.1},
{"t":83.5,"a":-0.13,"b":0.11,"c":-0.1,"d":0.07,"e":-0.1,"f":0.09},
{"t":83.75,"a":-0.18,"b":0.13,"c":-0.14,"d":0.14,"e":-0.15,"f":0.1},
{"t":84,"a":-0.12,"b":0.15,"c":-0.08,"d":0.09,"e":-0.09,"f":0.09},
{"t":84.25,"a":-0.1,"b":0.12,"c":-0.09,"d":0.08,"e":-0.08,"f":0.14},
{"t":84.5,"a":-0.14,"b":0.2,"c":-0.07,"d":0.09,"e":-0.12,"f":0.1},
{"t":84.75,"a":-0.12,"b":0.13,"c":-0.11,"d":0.07,"e":-0.09,"f":0.08},
{"t":85,"a":-0.2,"b":0.12,"c":-0.08,"d":0.13,"e":-0.1,"f":0.11},
{"t":85.25,"a":-0.11,"b":0.14,"c":-0.09,"d":0.08,"e":-0.08,"f":0.09},
{"t":85.5,"a":-0.13,"b":0.11,"c":-0.13,"d":0.1,"e":-0.13,"f":0.16},
{"t":85.75,"a":-0.12,"b":0.19,"c":-0.08,"d":0.08,"e":-0.09,"f":0.1},
{"t":86,"a":-0.16,"b":0.13,"c":-0.1,"d":0.07,"e":-0.08,"f":0.09},
{"t":86.25,"a":-0.1,"b":0.12,"c":-0.07,"d":0.15,"e":-0.11,"f":0.12},
{"t":86.5,"a":-0.12,"b":0.15,"c":-0.12,"d":0.09,"e":-0.08,"f":0.08},
{"t":86.75,"a":-0.14,"b":0.11,"c":-0.08,"d":0.08,"e":-0.1,"f":0.1},
{"t":87,"a":-0.11,"b":0.13,"c":-0.09,"d":0.1,"e":-0.09,"f":0.13},
{"t":87.25,"a":-0.22,"b":0.21,"c":-0.08,"d":0.07,"e":-0.13,"f":0.09},
{"t":87.5,"a":-0.1,"b":0.17,"c":-0.09,"d":0.14,"e":-0.1,"f":0.1},
{"t":87.75,"a":-0.14,"b":0.11,"c":-0.13,"d":0.09,"e":-0.09,"f":0.09},
{"t":88,"a":-0.12,"b":0.13,"c":-0.08,"d":0.08,"e":-0.13,"f":0.12},
{"t":88.25,"a":-0.2,"b":0.15,"c":-0.1,"d":0.09,"e":-0.08,"f":0.08},
{"t":88.5,"a":-0.11,"b":0.12,"c":-0.07,"d":0.07,"e":-0.09,"f":0.1},
{"t":88.75,"a":-0.13,"b":0.2,"c":-0.12,"d":0.13,"e":-0.11,"f":0.13},
{"t":89,"a":-0.12,"b":0.13,"c":-0.08,"d":0.08,"e":-0.08,"f":0.09},
{"t":89.25,"a":-0.16,"b":0.12,"c":-0.09,"d":0.1,"e":-0.1,"f":0.11},
{"t":89.5,"a":-0.1,"b":0.14,"c":-0.08,"d":0.08,"e":-0.15,"f":0.08},
{"t":89.75,"a":-0.12,"b":0.11,"c":-0.07,"d":0.07,"e":-0.09,"f":0.15}
]
},
"vconcat": [
{
"width": 680, "height": 58,
"data": {"name": "info"},
"mark": {"type": "text", "align": "left", "baseline": "middle", "fontSize": 16, "fontWeight": "bold", "font": "Liberation Sans, Noto Sans CJK TC"},
"encoding": {
"x": {"field": "col", "type": "nominal", "scale": {"type": "point", "domain": ["L","R"], "range": [-14, 357], "padding": 0}, "axis": null},
"y": {"field": "r", "type": "ordinal", "scale": {"type": "point", "range": [7, 56], "padding": 0}, "axis": null},
"text": {"field": "s"},
"color": {"field": "col", "type": "nominal", "scale": {"domain": ["L","R"], "range": ["#000000","#0000FF"]}, "legend": null}
}
},
{
"width": 680, "height": 135,
"data": {"name": "w"},
"layer": [
{"mark": {"type": "rule", "color": "#0000FF", "strokeWidth": 2.2},
"encoding": {
"x": {"field": "t", "type": "quantitative", "scale": {"domain": [0, 89.8], "nice": false, "zero": false}, "axis": null},
"y": {"field": "a", "type": "quantitative", "scale": {"domain": [-1, 1], "nice": false, "zero": false}, "axis": {"values": [-1,-0.5,0,0.5,1], "labelOverlap": false, "labelExpr": "''+datum.value", "title": null}},
"y2": {"field": "b"}
}},
{"mark": {"type": "text", "align": "left", "baseline": "top", "dx": 13, "dy": 2, "color": "#FF0000", "fontSize": 16, "fontWeight": "bold", "font": "Liberation Sans", "lineHeight": 20},
"encoding": {"x": {"datum": 0, "type": "quantitative", "axis": null}, "y": {"datum": 1, "type": "quantitative", "axis": {"values": [-1,-0.5,0,0.5,1], "labelOverlap": false, "labelExpr": "''+datum.value", "title": null}}, "text": {"value": ["Z Max", "0.72 gal"]}}}
]
},
{
"width": 680, "height": 135,
"data": {"name": "w"},
"layer": [
{"mark": {"type": "rule", "color": "#0000FF", "strokeWidth": 2.2},
"encoding": {
"x": {"field": "t", "type": "quantitative", "scale": {"domain": [0, 89.8], "nice": false, "zero": false}, "axis": null},
"y": {"field": "c", "type": "quantitative", "scale": {"domain": [-1, 1], "nice": false, "zero": false}, "axis": {"values": [-1,-0.5,0,0.5,1], "labelOverlap": false, "labelExpr": "''+datum.value", "title": "acceleration", "titleY": 44, "titlePadding": 8}},
"y2": {"field": "d"}
}},
{"mark": {"type": "text", "align": "left", "baseline": "top", "dx": 13, "dy": 2, "color": "#FF0000", "fontSize": 16, "fontWeight": "bold", "font": "Liberation Sans", "lineHeight": 20},
"encoding": {"x": {"datum": 0, "type": "quantitative", "axis": null}, "y": {"datum": 1, "type": "quantitative", "axis": {"values": [-1,-0.5,0,0.5,1], "labelOverlap": false, "labelExpr": "''+datum.value", "title": "acceleration", "titleY": 44, "titlePadding": 8}}, "text": {"value": ["NS Max", "0.78 gal"]}}}
]
},
{
"width": 680, "height": 135,
"data": {"name": "w"},
"layer": [
{"mark": {"type": "rule", "color": "#0000FF", "strokeWidth": 2.2},
"encoding": {
"x": {"field": "t", "type": "quantitative", "scale": {"domain": [0, 89.8], "nice": false, "zero": false}, "axis": {"values": [0,10,20,30,40,50,60,70,80], "title": "second", "titlePadding": 7, "labelPadding": 3}},
"y": {"field": "e", "type": "quantitative", "scale": {"domain": [-1, 1], "nice": false, "zero": false}, "axis": {"values": [-1,-0.5,0,0.5,1], "labelOverlap": false, "labelExpr": "''+datum.value", "title": null}},
"y2": {"field": "f"}
}},
{"mark": {"type": "text", "align": "left", "baseline": "top", "dx": 13, "dy": 2, "color": "#FF0000", "fontSize": 16, "fontWeight": "bold", "font": "Liberation Sans", "lineHeight": 20},
"encoding": {"x": {"datum": 0, "type": "quantitative", "axis": {"values": [0,10,20,30,40,50,60,70,80], "title": "second", "titlePadding": 7, "labelPadding": 3}}, "y": {"datum": 1, "type": "quantitative", "axis": {"values": [-1,-0.5,0,0.5,1], "labelOverlap": false, "labelExpr": "''+datum.value", "title": null}}, "text": {"value": ["EW Max", "0.71 gal"]}}},
{"mark": {"type": "text", "align": "right", "baseline": "middle", "dx": -15, "dy": 37, "color": "#999999", "fontSize": 17, "fontWeight": "normal", "font": "Noto Sans CJK TC"},
"encoding": {"x": {"datum": 89.8, "type": "quantitative", "axis": {"values": [0,10,20,30,40,50,60,70,80], "title": "second", "titlePadding": 7, "labelPadding": 3}}, "y": {"datum": -1, "type": "quantitative", "axis": {"values": [-1,-0.5,0,0.5,1], "labelOverlap": false, "labelExpr": "''+datum.value", "title": null}}, "text": {"value": "中央氣象署"}}}
]
}
],
"config": {
"view": {"stroke": null},
"font": "Liberation Sans",
"axis": {"grid": false, "domainColor": "#000000", "domainWidth": 1.5, "tickColor": "#000000", "tickWidth": 1.5, "tickSize": 5, "labelColor": "#000000", "labelFont": "Liberation Sans", "labelFontSize": 14, "labelFontWeight": "bold", "labelPadding": 2, "titleColor": "#000000", "titleFont": "Liberation Sans", "titleFontSize": 16, "titleFontWeight": "bold"}
}
}
